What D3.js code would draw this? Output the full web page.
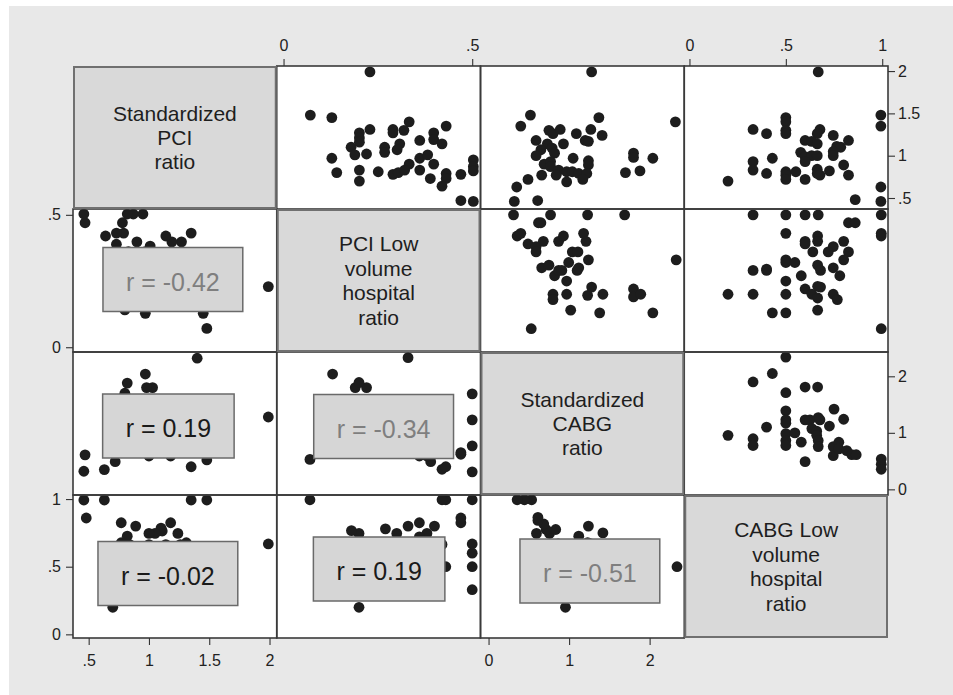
<!DOCTYPE html>
<html>
<head>
<meta charset="utf-8">
<script src="https://cdn.jsdelivr.net/npm/d3@7"></script>
<style>
  html, body { margin: 0; padding: 0; background: #ffffff; }
  svg { display: block; font-family: "Liberation Sans", Arial, Helvetica, sans-serif; }
</style>
</head>
<body>
<svg id="chart" width="953" height="695"></svg>
<script>
// ---- Variables (matrix order) ----
const varLabels = [
  ["Standardized", "PCI", "ratio"],
  ["PCI Low", "volume", "hospital", "ratio"],
  ["Standardized", "CABG", "ratio"],
  ["CABG Low", "volume", "hospital", "ratio"]
];
const varDomains = [[0.37, 2.06], [-0.018, 0.522], [-0.1, 2.43], [-0.027, 1.03]];
const varTicks = [[0.5, 1, 1.5, 2], [0, 0.5], [0, 1, 2], [0, 0.5, 1]];

// ---- Pairwise observations: [column variable, row variable] ----
// PCI low-volume ratio (x) vs standardized PCI ratio (y)
const pciLowVsPciStd = [
  [0.229,1.99],[0.071,1.48],[0.128,1.45],[0.333,1.40],[0.431,1.35],[0.229,1.31],[0.290,1.31],
  [0.290,1.27],[0.319,1.30],[0.201,1.27],[0.201,1.21],[0.398,1.27],[0.398,1.19],[0.420,1.14],
  [0.361,1.18],[0.308,1.14],[0.201,1.16],[0.179,1.10],[0.268,1.10],[0.268,1.04],[0.301,1.07],
  [0.189,1.01],[0.220,1.02],[0.128,0.97],[0.361,0.97],[0.382,1.01],[0.333,0.90],[0.398,0.90],
  [0.503,0.95],[0.503,0.87],[0.503,0.82],[0.141,0.80],[0.201,0.83],[0.251,0.81],[0.290,0.78],
  [0.304,0.80],[0.321,0.83],[0.361,0.83],[0.201,0.70],[0.389,0.73],[0.431,0.79],[0.431,0.73],
  [0.420,0.64],[0.470,0.78],[0.470,0.47],[0.503,0.46]
];
// Standardized CABG ratio (x) vs standardized PCI ratio (y)
const cabgStdVsPciStd = [
  [1.28,1.99],[0.52,1.48],[0.40,1.35],[1.37,1.45],[2.32,1.40],[0.75,1.30],[0.80,1.26],[0.89,1.31],
  [1.09,1.26],[1.27,1.31],[1.41,1.24],[0.59,1.18],[0.73,1.14],[0.93,1.14],[1.20,1.18],[1.24,1.17],
  [0.65,1.07],[0.79,1.09],[0.82,1.03],[0.59,1.00],[1.05,0.97],[1.24,0.94],[1.24,0.89],[1.80,1.03],
  [1.80,0.98],[2.04,0.97],[0.69,0.90],[0.77,0.93],[0.77,0.87],[0.87,0.83],[0.66,0.77],[0.84,0.77],
  [0.97,0.81],[1.04,0.81],[1.12,0.79],[1.22,0.79],[0.97,0.69],[1.17,0.72],[1.70,0.80],[1.88,0.82],
  [0.49,0.72],[0.35,0.63],[0.32,0.46],[0.61,0.47]
];
// CABG low-volume ratio (x) vs standardized PCI ratio (y)
const cabgLowVsPciStd = [
  [0.668,1.99],[0.50,1.45],[0.50,1.40],[0.50,1.30],[0.50,1.26],[0.33,1.31],[0.40,1.26],[0.993,1.48],
  [0.993,1.35],[0.677,1.31],[0.663,1.26],[0.746,1.24],[0.60,1.18],[0.634,1.17],[0.663,1.14],
  [0.825,1.18],[0.764,1.11],[0.785,1.10],[0.746,1.05],[0.746,1.00],[0.577,1.04],[0.60,0.99],
  [0.634,1.00],[0.663,1.00],[0.60,0.93],[0.43,0.97],[0.33,0.93],[0.33,0.83],[0.40,0.79],[0.50,0.81],
  [0.50,0.77],[0.50,0.72],[0.552,0.81],[0.60,0.72],[0.663,0.84],[0.663,0.79],[0.677,0.77],
  [0.726,0.82],[0.80,0.89],[0.825,0.77],[0.20,0.70],[0.86,0.48],[0.993,0.63],[0.993,0.46]
];
// Standardized CABG ratio (x) vs PCI low-volume ratio (y)
const cabgStdVsPciLow = [
  [0.31,0.50],[0.77,0.50],[1.23,0.50],[1.69,0.50],[0.62,0.47],[0.65,0.47],[0.355,0.42],[0.40,0.43],
  [0.49,0.39],[0.59,0.38],[0.59,0.36],[0.68,0.40],[0.87,0.40],[0.93,0.42],[1.18,0.43],[1.21,0.40],
  [1.04,0.36],[1.11,0.36],[1.24,0.33],[2.33,0.33],[0.66,0.30],[0.75,0.31],[0.82,0.27],[0.87,0.29],
  [0.91,0.29],[0.995,0.32],[1.10,0.29],[1.12,0.30],[0.97,0.25],[0.80,0.20],[0.80,0.18],[0.97,0.20],
  [1.23,0.196],[1.28,0.227],[1.42,0.20],[1.80,0.22],[1.80,0.19],[1.89,0.20],[1.02,0.14],[1.38,0.13],
  [2.04,0.13],[0.53,0.07]
];
// CABG low-volume ratio (x) vs PCI low-volume ratio (y)
const cabgLowVsPciLow = [
  [0.33,0.50],[0.50,0.50],[0.60,0.50],[0.668,0.50],[0.995,0.50],[0.825,0.47],[0.86,0.47],[0.50,0.43],
  [0.995,0.43],[0.995,0.42],[0.60,0.40],[0.60,0.39],[0.665,0.42],[0.665,0.40],[0.80,0.40],
  [0.746,0.38],[0.72,0.36],[0.825,0.36],[0.64,0.36],[0.50,0.33],[0.50,0.32],[0.547,0.32],[0.80,0.33],
  [0.33,0.29],[0.40,0.295],[0.40,0.29],[0.665,0.31],[0.68,0.29],[0.746,0.30],[0.78,0.27],[0.58,0.27],
  [0.50,0.25],[0.665,0.23],[0.68,0.227],[0.60,0.22],[0.635,0.20],[0.665,0.186],[0.746,0.20],
  [0.767,0.18],[0.20,0.20],[0.33,0.20],[0.50,0.20],[0.43,0.13],[0.50,0.13],[0.665,0.14],[0.995,0.07]
];
// CABG low-volume ratio (x) vs standardized CABG ratio (y)
const cabgLowVsCabgStd = [
  [0.50,2.34],[0.43,2.05],[0.33,1.90],[0.60,1.81],[0.665,1.81],[0.50,1.71],[0.75,1.42],[0.50,1.39],
  [0.50,1.23],[0.50,1.17],[0.60,1.23],[0.625,1.23],[0.668,1.27],[0.677,1.23],[0.80,1.24],[0.40,1.10],
  [0.635,1.075],[0.66,1.03],[0.726,1.12],[0.20,0.955],[0.33,0.895],[0.33,0.775],[0.50,0.985],
  [0.50,0.865],[0.50,0.775],[0.547,1.00],[0.58,0.835],[0.66,0.955],[0.668,0.865],[0.668,0.757],
  [0.746,0.757],[0.746,0.595],[0.775,0.834],[0.775,0.715],[0.816,0.685],[0.842,0.613],[0.865,0.613],
  [0.60,0.49],[0.995,0.535],[0.995,0.445],[0.995,0.355]
];

// Upper-triangle panels; the mirrored lower panel shows the same pairs transposed
const panelPairs = [
  { row: 0, col: 1, points: pciLowVsPciStd },
  { row: 0, col: 2, points: cabgStdVsPciStd },
  { row: 0, col: 3, points: cabgLowVsPciStd },
  { row: 1, col: 2, points: cabgStdVsPciLow },
  { row: 1, col: 3, points: cabgLowVsPciLow },
  { row: 2, col: 3, points: cabgLowVsCabgStd }
];

// Pearson correlations shown in the lower panels
const correlations = [
  { row: 1, col: 0, r: -0.42 },
  { row: 2, col: 0, r: 0.19 },
  { row: 2, col: 1, r: -0.34 },
  { row: 3, col: 0, r: -0.02 },
  { row: 3, col: 1, r: 0.19 },
  { row: 3, col: 2, r: -0.51 }
];

// ---- Layout ----
const svg = d3.select("#chart");
const grid = { left: 73, top: 66, width: 815, height: 572 };
const nVar = varLabels.length;
const cellW = grid.width / nVar, cellH = grid.height / nVar;
const colX = d3.range(nVar + 1).map(i => grid.left + i * cellW);
const rowY = d3.range(nVar + 1).map(i => grid.top + i * cellH);

// nudges of the correlation boxes from the centre of their cell
const rBoxNudge = {
  "1-0": [-2, -1], "2-0": [-6.5, 2.5], "2-1": [5, 3],
  "3-0": [-7, 7], "3-1": [0.5, 2.5], "3-2": [7.5, 4.5]
};

const xScale = v => d3.scaleLinear().domain(varDomains[v]).range([colX[v], colX[v + 1]]);
const yScale = v => d3.scaleLinear().domain(varDomains[v]).range([rowY[v + 1], rowY[v]]);
const fmt = d => (d === 0 ? "0" : String(d).replace(/^0\./, "."));

// page background
svg.append("rect").attr("x", 9).attr("y", 6).attr("width", 953 - 9).attr("height", 695 - 6)
  .attr("fill", "#e8e8e8");

// white scatter cells
const cells = [];
for (let r = 0; r < nVar; r++) for (let c = 0; c < nVar; c++) cells.push({ r, c });
svg.append("g").selectAll("rect").data(cells.filter(d => d.r !== d.c)).join("rect")
  .attr("x", d => colX[d.c]).attr("y", d => rowY[d.r])
  .attr("width", cellW).attr("height", cellH)
  .attr("fill", "#ffffff");

// points: upper panel as given, lower panel transposed
const dotR = 5.4;
const dots = svg.append("g").attr("fill", "#1d1d1d");
panelPairs.forEach(p => {
  const xu = xScale(p.col), yu = yScale(p.row);
  dots.append("g").selectAll("circle").data(p.points).join("circle")
    .attr("cx", d => xu(d[0])).attr("cy", d => yu(d[1])).attr("r", dotR);
  const xl = xScale(p.row), yl = yScale(p.col);
  dots.append("g").selectAll("circle").data(p.points).join("circle")
    .attr("cx", d => xl(d[1])).attr("cy", d => yl(d[0])).attr("r", dotR);
});

// scatter cell outlines
svg.append("g").selectAll("rect").data(cells.filter(d => d.r !== d.c)).join("rect")
  .attr("x", d => colX[d.c]).attr("y", d => rowY[d.r])
  .attr("width", cellW).attr("height", cellH)
  .attr("fill", "none").attr("stroke", "#3a3a3a").attr("stroke-width", 1.6);

// diagonal name cells
const diag = svg.append("g").selectAll("g").data(d3.range(nVar)).join("g");
diag.append("rect")
  .attr("x", i => colX[i] + 1).attr("y", i => rowY[i] + 1)
  .attr("width", cellW - 2).attr("height", cellH - 2)
  .attr("fill", "#d9d9d9").attr("stroke", "#707070").attr("stroke-width", 2);
const nameSize = 21, nameLead = 24.4;
diag.each(function (i) {
  const lines = varLabels[i];
  const cx = (colX[i] + colX[i + 1]) / 2, cy = (rowY[i] + rowY[i + 1]) / 2;
  const first = cy - (lines.length - 1) / 2 * nameLead + 0.36 * nameSize;
  d3.select(this).selectAll("text").data(lines).join("text")
    .attr("text-anchor", "middle").attr("fill", "#1e1e1e").attr("font-size", nameSize)
    .attr("x", cx).attr("y", (d, k) => first + k * nameLead).text(d => d);
});

// correlation boxes; grey text marks correlations beyond the 5% critical value
const nObs = {};
panelPairs.forEach(p => { nObs[p.col + "-" + p.row] = p.points.length; });
const critR = n => { const t = 2.02; return t / Math.sqrt(n - 2 + t * t); };
const rSize = 25;
correlations.forEach(c => {
  const key = c.row + "-" + c.col;
  const nudge = rBoxNudge[key];
  const cx = (colX[c.col] + colX[c.col + 1]) / 2 + nudge[0];
  const cy = (rowY[c.row] + rowY[c.row + 1]) / 2 + nudge[1];
  const g = svg.append("g");
  const box = g.append("rect").attr("fill", "#d6d6d6").attr("stroke", "#6a6a6a").attr("stroke-width", 1.5);
  const sig = Math.abs(c.r) >= critR(nObs[key]);
  const label = g.append("text")
    .attr("x", cx).attr("y", cy).attr("dy", "0.45em")
    .attr("text-anchor", "middle").attr("font-size", rSize)
    .attr("fill", sig ? "#7f7f7f" : "#1a1a1a")
    .text("r = " + d3.format(".2f")(c.r).replace("−", "-"));
  const w = label.node().getComputedTextLength() + 46, h = 64;
  box.attr("x", cx - w / 2).attr("y", cy - h / 2).attr("width", w).attr("height", h);
});

// axes alternate sides: top/bottom for columns, right/left for rows
const axisStyle = g => {
  g.select(".domain").remove();
  g.selectAll(".tick line").attr("stroke", "#333333").attr("stroke-width", 1.1);
  g.selectAll(".tick text").attr("fill", "#222222").attr("font-size", 16)
    .attr("font-family", "\"Liberation Sans\", Arial, sans-serif");
};
for (let v = 0; v < nVar; v++) {
  const xs = xScale(v), ys = yScale(v);
  if (v % 2 === 0) {
    svg.append("g").attr("transform", `translate(0,${rowY[nVar]})`)
      .call(d3.axisBottom(xs).tickValues(varTicks[v]).tickFormat(fmt).tickSize(7).tickPadding(10).tickSizeOuter(0))
      .call(axisStyle);
    svg.append("g").attr("transform", `translate(${colX[nVar]},0)`)
      .call(d3.axisRight(ys).tickValues(varTicks[v]).tickFormat(fmt).tickSize(7).tickPadding(3).tickSizeOuter(0))
      .call(axisStyle);
  } else {
    svg.append("g").attr("transform", `translate(0,${rowY[0]})`)
      .call(d3.axisTop(xs).tickValues(varTicks[v]).tickFormat(fmt).tickSize(7).tickPadding(8).tickSizeOuter(0))
      .call(axisStyle);
    svg.append("g").attr("transform", `translate(${colX[0]},0)`)
      .call(d3.axisLeft(ys).tickValues(varTicks[v]).tickFormat(fmt).tickSize(7).tickPadding(5).tickSizeOuter(0))
      .call(axisStyle);
  }
}
</script>
</body>
</html>
